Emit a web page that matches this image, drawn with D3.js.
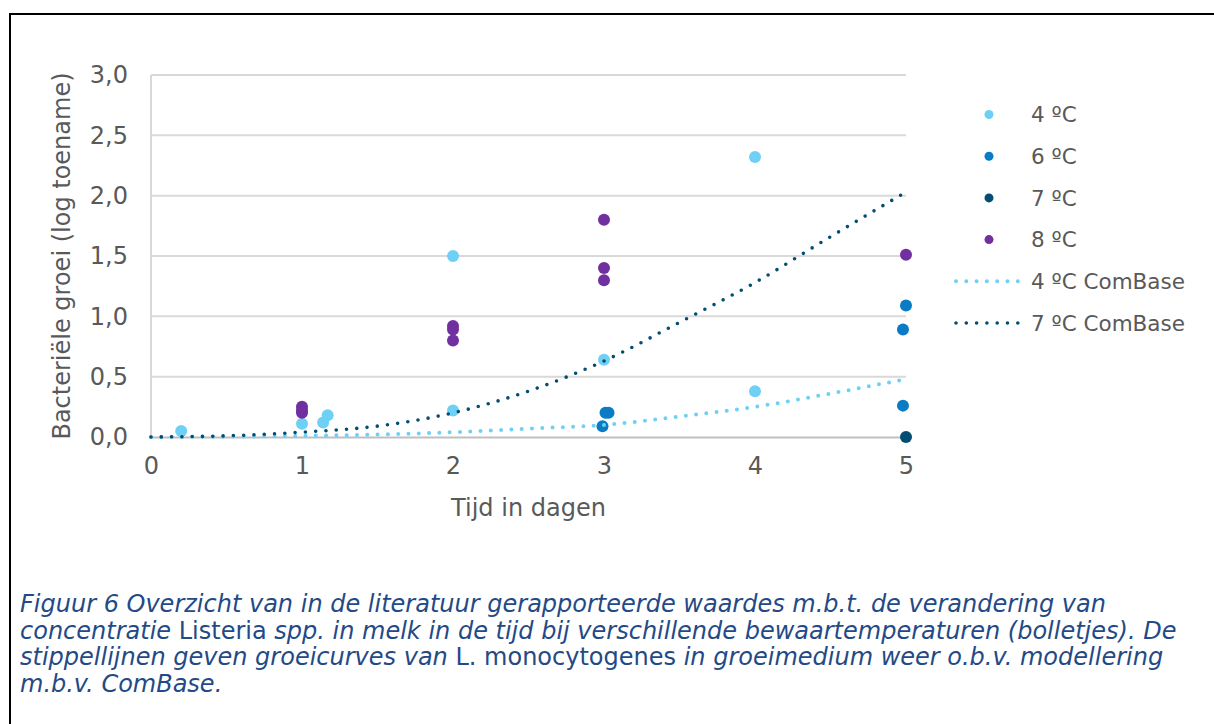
<!DOCTYPE html>
<html>
<head>
<meta charset="utf-8">
<script src="https://cdn.jsdelivr.net/npm/d3@7"></script>
<style>
  html, body { margin: 0; padding: 0; background: #fff; }
  svg { display: block; }
</style>
</head>
<body>
<svg id="chart" width="1214" height="724"></svg>
<script>
// Measured growth (log increase) per storage temperature
const days4 = [0.2, 1, 1.14, 1.17, 2, 2, 3, 4, 4];
const growth4 = [0.05, 0.11, 0.12, 0.18, 1.5, 0.22, 0.64, 2.32, 0.38];
const days6 = [2.99, 3.01, 3.03, 4.98, 5, 4.98];
const growth6 = [0.09, 0.2, 0.2, 0.89, 1.09, 0.26];
const days7 = [5];
const growth7 = [0];
const days8 = [1, 1, 1, 2, 2, 2, 3, 3, 3, 5];
const growth8 = [0.25, 0.22, 0.2, 0.92, 0.89, 0.8, 1.8, 1.4, 1.3, 1.51];

// ComBase model curves
const modelDays = [0, 0.5, 1, 1.5, 2, 2.5, 3, 3.5, 4, 4.5, 5];
const combase4 = [0, 0.003, 0.01, 0.02, 0.04, 0.07, 0.1, 0.17, 0.25, 0.36, 0.48];
const combase7 = [0, 0.01, 0.04, 0.09, 0.2, 0.38, 0.63, 0.95, 1.28, 1.66, 2.03];

const xTicks = [0, 1, 2, 3, 4, 5];
const yTicks = [0, 0.5, 1, 1.5, 2, 2.5, 3];

const legendLabels = ["4 ºC", "6 ºC", "7 ºC", "8 ºC", "4 ºC ComBase", "7 ºC ComBase"];
const colors = {
  c4: "#6fd0f6",
  c6: "#0a7cc6",
  c7: "#024d71",
  c8: "#7030a0",
  grid: "#d9d9d9",
  axis: "#bfbfbf",
  text: "#595959",
  caption: "#234a86"
};

const svg = d3.select("#chart");
const font = "'DejaVu Sans', Verdana, sans-serif";

// frame lines (top and left)
svg.append("line").attr("x1", 10).attr("x2", 1214).attr("y1", 14).attr("y2", 14)
  .attr("stroke", "#000").attr("stroke-width", 2);
svg.append("line").attr("x1", 10).attr("x2", 10).attr("y1", 13).attr("y2", 724)
  .attr("stroke", "#000").attr("stroke-width", 2);

const x = d3.scaleLinear().domain([0, 5]).range([151, 906]);
const y = d3.scaleLinear().domain([0, 3]).range([437, 75]);

// gridlines
svg.append("g").selectAll("line").data(yTicks.filter(d => d > 0)).join("line")
  .attr("x1", x(0)).attr("x2", x(5))
  .attr("y1", d => y(d)).attr("y2", d => y(d))
  .attr("stroke", colors.grid).attr("stroke-width", 2);

// y axis line
svg.append("line").attr("x1", x(0)).attr("x2", x(0)).attr("y1", y(3)).attr("y2", y(0))
  .attr("stroke", colors.grid).attr("stroke-width", 2);

// x axis
const xAxis = svg.append("g").attr("transform", `translate(0,${y(0)})`)
  .call(d3.axisBottom(x).tickValues(xTicks).tickSize(0).tickPadding(20).tickFormat(d3.format("d")));
xAxis.select(".domain").attr("stroke", colors.axis).attr("stroke-width", 2);
xAxis.selectAll("text").attr("fill", colors.text).style("font-family", font).style("font-size", "24px");

// y axis labels
const fmt = d => d3.format(".1f")(d).replace(".", ",");
const yAxis = svg.append("g").attr("transform", `translate(${x(0)},0)`)
  .call(d3.axisLeft(y).tickValues(yTicks).tickSize(0).tickPadding(23).tickFormat(fmt));
yAxis.select(".domain").remove();
yAxis.selectAll("text").attr("fill", colors.text).style("font-family", font).style("font-size", "24px");

// axis titles
svg.append("text").attr("x", (x(0) + x(5)) / 2).attr("y", 516)
  .attr("text-anchor", "middle").attr("fill", colors.text)
  .style("font-family", font).style("font-size", "24px").text("Tijd in dagen");
svg.append("text").attr("transform", `translate(70,${(y(0) + y(3)) / 2}) rotate(-90)`)
  .attr("text-anchor", "middle").attr("fill", colors.text)
  .style("font-family", font).style("font-size", "24px").text("Bacteriële groei (log toename)");

// scatter series
const scatter = [
  [days4, growth4, colors.c4],
  [days6, growth6, colors.c6],
  [days7, growth7, colors.c7],
  [days8, growth8, colors.c8]
];
scatter.forEach(([xs, ys, c]) => {
  svg.append("g").selectAll("circle").data(d3.range(xs.length)).join("circle")
    .attr("cx", i => x(xs[i])).attr("cy", i => y(ys[i])).attr("r", 6)
    .attr("fill", c);
});

// dotted model curves
const line = d3.line().x(i => x(modelDays[i])).curve(d3.curveMonotoneX);
[[combase4, colors.c4, 4], [combase7, colors.c7, 3.6]].forEach(([vals, c, w]) => {
  svg.append("path")
    .attr("d", line.y(i => y(vals[i]))(d3.range(modelDays.length)))
    .attr("fill", "none").attr("stroke", c).attr("stroke-width", w)
    .attr("stroke-linecap", "round").attr("stroke-dasharray", "0,10.3");
});

// legend
const legendColors = [colors.c4, colors.c6, colors.c7, colors.c8, colors.c4, colors.c7];
const lg = svg.append("g");
legendLabels.forEach((label, i) => {
  const ly = 114.5 + i * 41.7;
  if (i < 4) {
    lg.append("circle").attr("cx", 989).attr("cy", ly).attr("r", 4.5).attr("fill", legendColors[i]);
  } else {
    lg.append("line").attr("x1", 956).attr("x2", 1020).attr("y1", ly).attr("y2", ly)
      .attr("stroke", legendColors[i]).attr("stroke-width", i === 4 ? 4 : 3.6)
      .attr("stroke-linecap", "round").attr("stroke-dasharray", "0,10.3");
  }
  lg.append("text").attr("x", 1031).attr("y", ly).attr("dy", "0.36em")
    .attr("fill", colors.text).style("font-family", font).style("font-size", "21.5px")
    .text(label);
});

// caption
const captionLines = [
  [["Figuur 6 Overzicht van in de literatuur gerapporteerde waardes m.b.t. de verandering van", true]],
  [["concentratie ", true], ["Listeria", false], [" spp. in melk in de tijd bij verschillende bewaartemperaturen (bolletjes). De", true]],
  [["stippellijnen geven groeicurves van ", true], ["L. monocytogenes", false], [" in groeimedium weer o.b.v. modellering", true]],
  [["m.b.v. ComBase.", true]]
];
const cap = svg.append("g");
captionLines.forEach((parts, i) => {
  const t = cap.append("text").attr("x", 20).attr("y", 612 + i * 26.5)
    .attr("fill", colors.caption).style("font-family", font).style("font-size", "24px")
    .attr("xml:space", "preserve");
  parts.forEach(([s, it]) => {
    t.append("tspan").style("font-style", it ? "italic" : "normal").text(s);
  });
});
</script>
</body>
</html>
